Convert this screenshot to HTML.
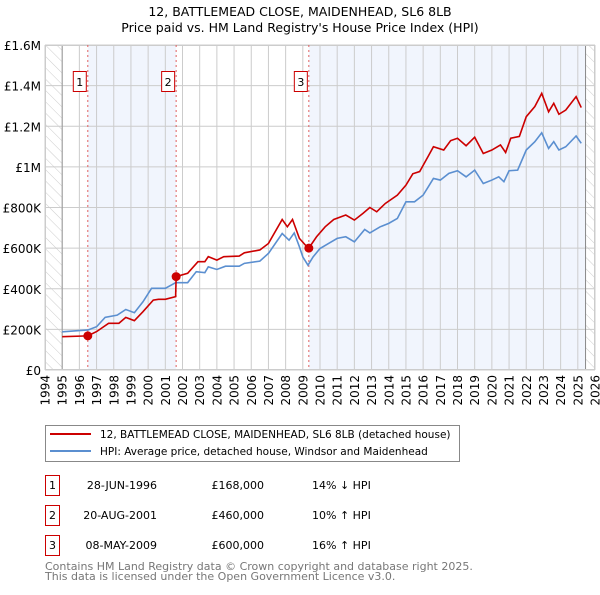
<!DOCTYPE html>
<html><head><meta charset="utf-8"><style>
body{margin:0;background:#fff;font-family:"Liberation Sans","DejaVu Sans",sans-serif;}
</style></head><body>
<svg width="600" height="590" xmlns="http://www.w3.org/2000/svg" font-family="DejaVu Sans, Liberation Sans, sans-serif">
<defs><pattern id="hatch" width="8" height="8" patternUnits="userSpaceOnUse" patternTransform="rotate(-45)"><line x1="0" y1="0" x2="0" y2="8" stroke="#ccc" stroke-width="1"/></pattern></defs>
<text x="300" y="16" text-anchor="middle" font-size="12.5">12, BATTLEMEAD CLOSE, MAIDENHEAD, SL6 8LB</text>
<text x="300" y="32" text-anchor="middle" font-size="12.5">Price paid vs. HM Land Registry's House Price Index (HPI)</text>
<g id="plot"></g>
<g>
<rect x="45.5" y="425.5" width="414" height="36" fill="#fff" stroke="#888"/>
<line x1="50" y1="434" x2="91" y2="434" stroke="#cc0000" stroke-width="2"/>
<text x="100" y="438" font-size="10.5">12, BATTLEMEAD CLOSE, MAIDENHEAD, SL6 8LB (detached house)</text>
<line x1="50" y1="451" x2="91" y2="451" stroke="#5b8fd0" stroke-width="2"/>
<text x="100" y="455" font-size="10.5">HPI: Average price, detached house, Windsor and Maidenhead</text>
</g>
<g font-size="11">
<rect x="45.5" y="475.5" width="14" height="20" fill="#fff" stroke="#cc0000"/><text x="52.5" y="489" text-anchor="middle">1</text>
<text x="157" y="489" text-anchor="end">28-JUN-1996</text><text x="264" y="489" text-anchor="end">£168,000</text><text x="312" y="489">14% ↓ HPI</text>
<rect x="45.5" y="505.5" width="14" height="20" fill="#fff" stroke="#cc0000"/><text x="52.5" y="519" text-anchor="middle">2</text>
<text x="157" y="519" text-anchor="end">20-AUG-2001</text><text x="264" y="519" text-anchor="end">£460,000</text><text x="312" y="519">10% ↑ HPI</text>
<rect x="45.5" y="535.5" width="14" height="20" fill="#fff" stroke="#cc0000"/><text x="52.5" y="549" text-anchor="middle">3</text>
<text x="157" y="549" text-anchor="end">08-MAY-2009</text><text x="264" y="549" text-anchor="end">£600,000</text><text x="312" y="549">16% ↑ HPI</text>
</g>
<text x="45" y="570" font-size="11" fill="#777">Contains HM Land Registry data © Crown copyright and database right 2025.</text>
<text x="45" y="580" font-size="11" fill="#777">This data is licensed under the Open Government Licence v3.0.</text>
</svg>
<script>
const hpiYears=[1995.0,1996.5,1997.0,1997.5,1998.2,1998.7,1999.2,1999.7,2000.2,2000.6,2001.0,2001.6,2002.3,2002.8,2003.3,2003.5,2004.0,2004.5,2005.3,2005.6,2006.5,2007.0,2007.8,2008.2,2008.5,2008.8,2009.0,2009.3,2009.6,2010.0,2010.5,2011.0,2011.5,2012.0,2012.6,2012.9,2013.5,2014.0,2014.5,2015.0,2015.5,2016.0,2016.3,2016.6,2017.0,2017.5,2018.0,2018.5,2019.0,2019.5,2020.0,2020.4,2020.7,2021.0,2021.5,2022.0,2022.5,2022.9,2023.3,2023.6,2023.9,2024.3,2024.9,2025.2];
const hpiValues=[188,197,213,259,270,298,282,336,402,402,402,430,430,484,479,508,495,511,511,525,536,574,672,639,675,607,557,516,557,598,623,648,656,631,692,675,705,722,746,828,828,861,902,943,935,968,981,951,984,918,935,951,927,981,984,1083,1124,1168,1091,1124,1083,1099,1152,1116];
const priceYears=[1995.0,1996.49,1997.0,1997.7,1998.3,1998.7,1999.2,1999.7,2000.3,2000.6,2001.0,2001.6,2001.63,2002.3,2002.9,2003.3,2003.5,2004.0,2004.4,2005.3,2005.6,2006.5,2007.0,2007.8,2008.1,2008.4,2008.8,2009.2,2009.35,2009.8,2010.3,2010.8,2011.5,2012.0,2012.5,2012.9,2013.3,2013.8,2014.5,2015.0,2015.4,2015.8,2016.3,2016.6,2017.2,2017.6,2018.0,2018.5,2019.0,2019.5,2020.0,2020.5,2020.8,2021.1,2021.6,2022.0,2022.5,2022.9,2023.3,2023.6,2023.9,2024.3,2024.9,2025.2];
const priceValues=[164,168,189,230,230,259,243,287,344,348,348,361,460,476,533,533,558,541,558,561,577,591,623,741,705,741,648,610,600,656,705,741,763,738,771,800,779,820,861,910,966,977,1053,1099,1083,1129,1141,1104,1146,1066,1083,1108,1071,1141,1150,1247,1297,1362,1271,1313,1259,1280,1346,1292];
const saleYears=[1996.49,2001.63,2009.35];
const saleValues=[168,460,600];
const saleLabels=["1","2","3"];
const yTicks=[0,200,400,600,800,1000,1200,1400,1600];
const yTickLabels=["£0","£200K","£400K","£600K","£800K","£1M","£1.2M","£1.4M","£1.6M"];
const xTicks=[1994,1995,1996,1997,1998,1999,2000,2001,2002,2003,2004,2005,2006,2007,2008,2009,2010,2011,2012,2013,2014,2015,2016,2017,2018,2019,2020,2021,2022,2023,2024,2025,2026];
const dataEnd=2025.45;

const L=45,R=595,T=45,B=370;
const x=y=>L+(y-1994)/(2026-1994)*(R-L);
const yy=v=>B-v/1600*(B-T);
const NS="http://www.w3.org/2000/svg";
const g=document.getElementById('plot');
function mk(t,a,p){const e=document.createElementNS(NS,t);for(const k in a)e.setAttribute(k,a[k]);(p||g).appendChild(e);return e;}
let r=mk('rect',{x:x(saleYears[0]),y:T,width:x(saleYears[1])-x(saleYears[0]),height:B-T,fill:'#eef3fc',opacity:0.8});


r=mk('rect',{x:x(saleYears[2]),y:T,width:x(dataEnd)-x(saleYears[2]),height:B-T,fill:'#eef3fc',opacity:0.8});


r=mk('rect',{x:L,y:T,width:x(1995)-L,height:B-T,fill:'url(#hatch)'});


r=mk('rect',{x:x(dataEnd),y:T,width:R-x(dataEnd),height:B-T,fill:'url(#hatch)'});


yTicks.forEach((v,i)=>{
 const l=mk('line',{x1:L,x2:R,y1:yy(v),y2:yy(v),stroke:'#ccc'});
 
 
 const t=mk('text',{x:L-4,y:yy(v)+5,'text-anchor':'end','font-size':12});
 t.textContent=yTickLabels[i];
 
 
});
xTicks.forEach(v=>{
 const l=mk('line',{x1:x(v),x2:x(v),y1:T,y2:B,stroke:'#ccc'});
 
 
 const t=mk('text',{x:0,y:0,'text-anchor':'end','font-size':12,transform:`translate(${x(v)+4.5},${B+5}) rotate(-90)`});
 t.textContent=v;
 
 
});
let a=mk('line',{x1:x(1995),x2:x(1995),y1:T,y2:B,stroke:'#999'});


a=mk('line',{x1:x(dataEnd),x2:x(dataEnd),y1:T,y2:B,stroke:'#888'});


a=mk('rect',{x:L+0.5,y:T+0.5,width:R-L-1,height:B-T-1,fill:'none',stroke:'#ccc'});


saleYears.forEach((s,i)=>{
 const l=mk('line',{x1:x(s),x2:x(s),y1:T,y2:B,stroke:'#e06060','stroke-dasharray':'2,3'});
 
 
 const bx=mk('rect',{x:x(s)-14.5,y:71.5,width:13,height:20,fill:'#fff',stroke:'#cc0000'});
 
 
 const t=mk('text',{x:x(s)-8,y:86,'text-anchor':'middle','font-size':11});
 t.textContent=saleLabels[i];
 
 
});
const hp=mk('polyline',{points:hpiYears.map((y,i)=>x(y)+','+yy(hpiValues[i])).join(' '),fill:'none',stroke:'#5b8fd0','stroke-width':1.6});


const pp=mk('polyline',{points:priceYears.map((y,i)=>x(y)+','+yy(priceValues[i])).join(' '),fill:'none',stroke:'#cc0000','stroke-width':1.6});


saleYears.forEach((s,i)=>{
 const c=mk('circle',{cx:x(s),cy:yy(saleValues[i]),r:4.5,fill:'#cc0000'});
 
 
});
</script>
</body></html>
